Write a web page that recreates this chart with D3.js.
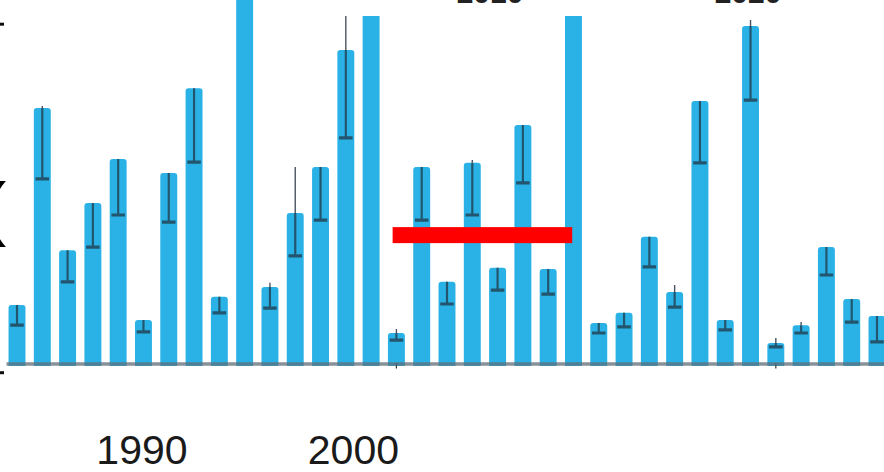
<!DOCTYPE html>
<html>
<head>
<meta charset="utf-8">
<script src="https://cdn.jsdelivr.net/npm/d3@7"></script>
<style>
  html, body { margin: 0; padding: 0; background: #fff; }
  svg { display: block; }
</style>
</head>
<body>
<svg id="chart" width="884" height="472"></svg>
<script>
// ---- data ----
const categories = d3.range(1, 36).map(i => "S" + i);
const values = [17.0, 74.8, 33.1, 46.9, 59.8, 12.6, 55.7, 80.6, 19.4, 115,
                22.3, 44.0, 57.5, 91.8, 110, 8.8, 57.5, 23.8, 58.7, 27.9,
                69.8, 27.6, 110, 11.7, 14.7, 37.0, 20.8, 76.8, 12.6, 98.8,
                5.9, 11.1, 34.0, 18.8, 13.8];
const errLow = [11.1, 54.0, 23.8, 34.0, 43.4, 9.1, 41.3, 58.9, 14.7, 115,
                16.1, 31.4, 41.9, 66.0, 110, 6.7, 41.9, 17.3, 43.4, 21.4,
                52.8, 20.2, 110, 8.8, 10.6, 28.2, 16.4, 58.7, 9.7, 77.1,
                4.7, 8.8, 25.8, 12.0, 6.2];
const errHigh = [17.0, 75.4, 33.1, 46.9, 59.8, 12.6, 55.7, 80.6, 19.4, 115,
                 23.5, 57.5, 57.5, 105, 110, 10.0, 57.5, 23.8, 59.5, 27.9,
                 69.8, 27.6, 110, 11.7, 14.7, 37.0, 22.9, 76.8, 12.6, 100.6,
                 7.3, 12.0, 34.0, 18.8, 13.8];
const bottomLabels = ["1990", "2000"];
const bottomLabelPos = [4.94, 13.3];      // in bar-index units
const topLabels = ["2010", "2020"];
const topLabelPos = [18.7, 28.9];         // in bar-index units
const leftTicks = [-2.7, 99.5];
const refLine = { from: 14.85, to: 21.95, value: 37.5 }; // red reference segment

// ---- layout ----
const W = 884, H = 472;
const svg = d3.select("#chart");

const x = d3.scaleLinear().domain([0, categories.length - 1]).range([17, 877]);
const step = x(1) - x(0);
const bw = step * 0.67;
const y = d3.scaleLinear().domain([0, 100]).range([363, 22]);

const defs = svg.append("defs");
defs.append("filter").attr("id", "soft")
  .attr("filterUnits", "userSpaceOnUse")
  .attr("x", -20).attr("y", -20).attr("width", W + 40).attr("height", H + 40)
  .append("feGaussianBlur").attr("stdDeviation", 0.6);
const clip = defs.append("clipPath").attr("id", "plotclip");
clip.append("rect").attr("x", 0).attr("y", 0).attr("width", 262).attr("height", y(0) + 6);
clip.append("rect").attr("x", 262).attr("y", 16).attr("width", W - 262).attr("height", y(0) + 6 - 16);

const g = svg.append("g").attr("filter", "url(#soft)");
const plot = g.append("g").attr("clip-path", "url(#plotclip)");

// bars
plot.selectAll("path.bar").data(values).join("path")
  .attr("class", "bar")
  .attr("fill", "#2bb2e6")
  .attr("d", (d, i) => {
    const x0 = x(i) - bw / 2, x1 = x(i) + bw / 2;
    const yt = y(d), yb = y(0) + 3, r = 3;
    return `M${x0},${yb}L${x0},${yt + r}Q${x0},${yt} ${x0 + r},${yt}L${x1 - r},${yt}Q${x1},${yt} ${x1},${yt + r}L${x1},${yb}Z`;
  });

// error bars: thin upper part, darker lower part with cap
plot.selectAll("line.eup").data(values).join("line")
  .attr("class", "eup")
  .attr("x1", (d, i) => x(i)).attr("x2", (d, i) => x(i))
  .attr("y1", (d, i) => y(errHigh[i])).attr("y2", d => y(d))
  .attr("stroke", "#4a5560").attr("stroke-width", 1.4);
plot.selectAll("line.elo").data(values).join("line")
  .attr("class", "elo")
  .attr("x1", (d, i) => x(i)).attr("x2", (d, i) => x(i))
  .attr("y1", d => y(d)).attr("y2", (d, i) => y(errLow[i]))
  .attr("stroke", "#24566e").attr("stroke-width", 2.2);
plot.selectAll("line.ecap").data(values).join("line")
  .attr("class", "ecap")
  .attr("x1", (d, i) => x(i) - bw * 0.4).attr("x2", (d, i) => x(i) + bw * 0.4)
  .attr("y1", (d, i) => y(errLow[i])).attr("y2", (d, i) => y(errLow[i]))
  .attr("stroke", "#24566e").attr("stroke-width", 3.2);

// small ticks below baseline for the tiny bars
plot.selectAll("line.tiny").data(values.map((d, i) => i).filter(i => values[i] < 7 || (values[i] < 9 && errLow[i] < 7)))
  .join("line").attr("class", "tiny")
  .attr("x1", i => x(i)).attr("x2", i => x(i))
  .attr("y1", y(0)).attr("y2", y(-1.6))
  .attr("stroke", "#333").attr("stroke-width", 1.2);

// baseline
g.append("line")
  .attr("x1", x(0) - bw / 2 - 2).attr("x2", W)
  .attr("y1", y(0) + 1).attr("y2", y(0) + 1)
  .attr("stroke", "#5f6e78").attr("stroke-width", 3.5).attr("stroke-opacity", 0.75);

// left axis fragments
const yAxis = d3.axisLeft(y).tickValues(leftTicks).tickSize(4).tickFormat("");
const ya = g.append("g").attr("transform", "translate(4,0)").call(yAxis);
ya.select(".domain").remove();
ya.selectAll(".tick line").attr("stroke", "#111").attr("stroke-width", 3);

// red reference segment
g.append("rect")
  .attr("x", x(refLine.from)).attr("width", x(refLine.to) - x(refLine.from))
  .attr("y", y(refLine.value) - 8).attr("height", 16)
  .attr("fill", "#ff0000");

// labels (outside the blur group)
const t = svg.append("g");
t.append("text")
  .attr("x", -17).attr("y", 232)
  .attr("font-family", "Liberation Sans, Arial, sans-serif")
  .attr("font-size", 70).attr("fill", "#000")
  .text("(");

t.selectAll("text.bl").data(bottomLabels).join("text")
  .attr("class", "bl")
  .attr("x", (d, i) => x(bottomLabelPos[i])).attr("y", 464)
  .attr("text-anchor", "middle")
  .attr("font-family", "Liberation Sans, Arial, sans-serif")
  .attr("font-size", 41).attr("fill", "#1a1a1a")
  .text(d => d);

t.selectAll("text.tl").data(topLabels).join("text")
  .attr("class", "tl")
  .attr("x", (d, i) => x(topLabelPos[i])).attr("y", 3)
  .attr("text-anchor", "middle")
  .attr("font-family", "Liberation Sans, Arial, sans-serif")
  .attr("font-weight", "bold")
  .attr("font-size", 30).attr("fill", "#222")
  .text(d => d);
</script>
</body>
</html>
